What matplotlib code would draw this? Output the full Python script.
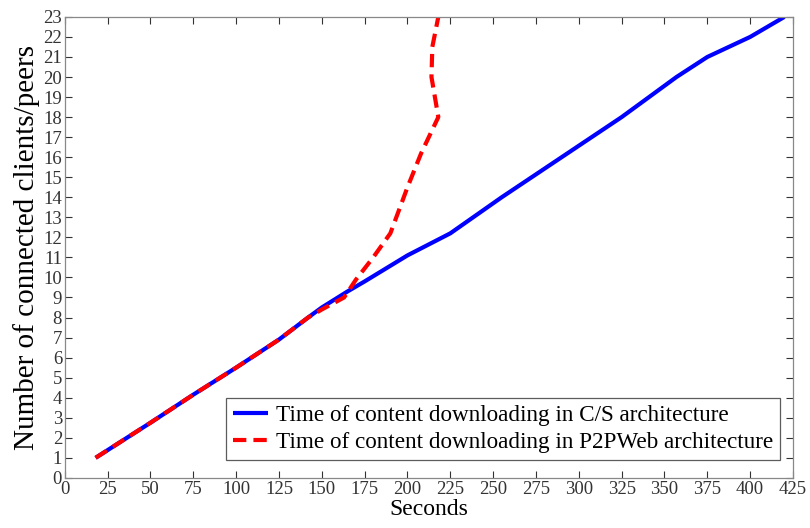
import matplotlib
matplotlib.use('Agg')
import matplotlib.pyplot as plt

# C/S architecture (blue, solid)
cs_time = [18, 50, 75, 100, 125, 142, 150, 165, 175, 200, 225, 255, 290, 325, 357, 375, 400, 420]
cs_clients = [1, 2.75, 4.15, 5.5, 6.9, 8, 8.5, 9.3, 9.8, 11.1, 12.2, 14, 16, 18, 20, 21, 22, 23]

# P2PWeb architecture (red, dashed)
p2p_time = [18, 50, 75, 100, 125, 142, 150, 163, 170, 180, 190, 200, 208, 218, 214, 214.5, 218]
p2p_clients = [1, 2.75, 4.15, 5.5, 6.9, 8, 8.4, 9, 9.9, 11, 12.2, 14.5, 16.2, 18, 20, 21.5, 23]

x_ticks = list(range(0, 426, 25))
y_ticks = list(range(0, 24))

plt.rcParams['font.family'] = ['Liberation Serif', 'DejaVu Serif']

fig = plt.figure(figsize=(8.1, 5.28), dpi=100)
ax = fig.add_axes([0.080, 0.095, 0.899, 0.873])

ax.plot(cs_time, cs_clients, color='#0000ff', lw=3, solid_capstyle='butt',
        label='Time of content downloading in C/S architecture')
ax.plot(p2p_time, p2p_clients, color='#ff0000', lw=3, ls=(0, (3.2, 1.7)),
        label='Time of content downloading in P2PWeb architecture')

ax.set_xlim(0, 425)
ax.set_ylim(0, 23)
ax.set_xticks(x_ticks)
ax.set_yticks(y_ticks)
ax.tick_params(direction='in', top=True, right=True, length=5, width=0.8,
               labelsize=13.5, colors='#333333', pad=2)
for s in ax.spines.values():
    s.set_color('#888888')
    s.set_linewidth(0.9)

ax.set_xlabel('Seconds', fontsize=17, labelpad=1)
ax.set_ylabel('Number of connected clients/peers', fontsize=21, labelpad=2)

leg = ax.legend(loc='lower right', bbox_to_anchor=(0.982, 0.038), fontsize=16.7,
                frameon=True, fancybox=False, handlelength=1.5, handletextpad=0.35,
                borderpad=0.3, labelspacing=0.25, borderaxespad=0)
leg.get_frame().set_edgecolor('#333333')
leg.get_frame().set_linewidth(0.9)

fig.savefig('out.png', dpi=100)
